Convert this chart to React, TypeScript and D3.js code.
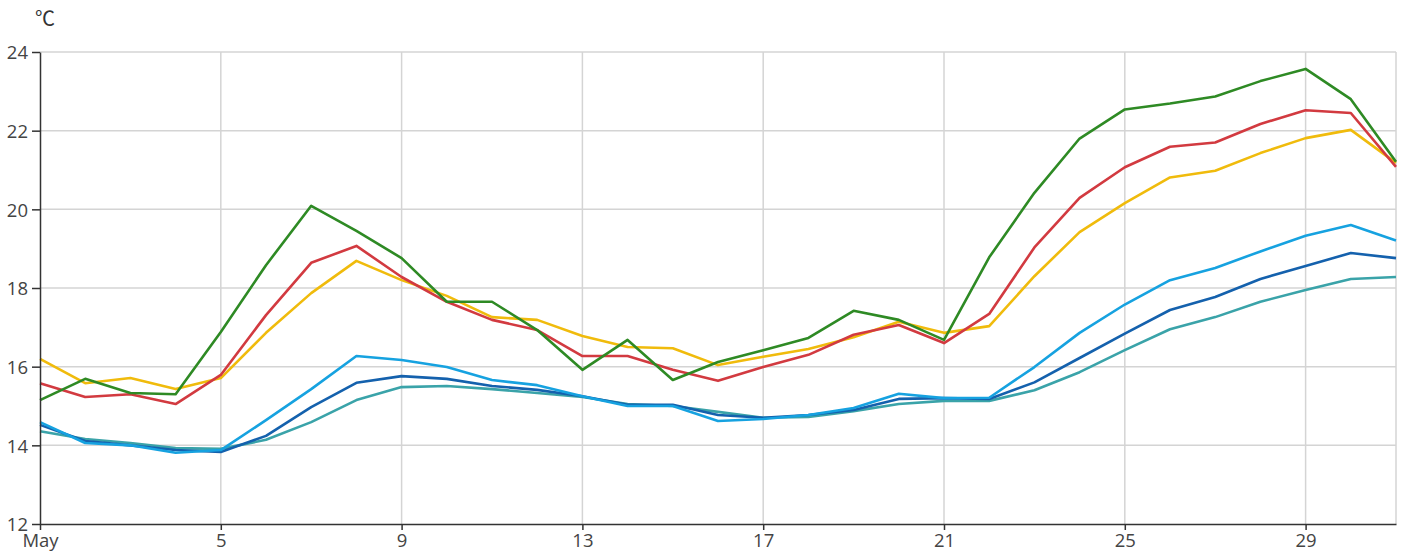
import React, { useEffect, useRef } from "react";
import * as d3 from "d3";

const days: number[] = d3.range(1, 32);
const tickDays: number[] = [1, 5, 9, 13, 17, 21, 25, 29];
const yTicks: number[] = [12, 14, 16, 18, 20, 22, 24];
const unitLabel = "℃";

const green: number[] = [15.15, 15.69, 15.33, 15.3, 16.88, 18.58, 20.09, 19.45, 18.76, 17.65, 17.65, 16.93, 15.92, 16.68, 15.66, 16.12, 16.42, 16.73, 17.42, 17.19, 16.68, 18.78, 20.42, 21.8, 22.54, 22.69, 22.87, 23.26, 23.57, 22.8, 21.21];
const red: number[] = [15.58, 15.23, 15.3, 15.05, 15.79, 17.31, 18.64, 19.07, 18.28, 17.65, 17.19, 16.93, 16.27, 16.27, 15.92, 15.64, 15.99, 16.3, 16.81, 17.06, 16.6, 17.34, 19.03, 20.29, 21.07, 21.59, 21.7, 22.17, 22.52, 22.45, 21.08];
const yellow: number[] = [16.2, 15.58, 15.71, 15.43, 15.71, 16.86, 17.87, 18.69, 18.2, 17.8, 17.26, 17.19, 16.78, 16.5, 16.47, 16.04, 16.25, 16.45, 16.75, 17.14, 16.86, 17.03, 18.3, 19.42, 20.16, 20.81, 20.98, 21.43, 21.81, 22.02, 21.18];
const lightBlue: number[] = [14.59, 14.06, 14.0, 13.81, 13.88, 14.64, 15.43, 16.27, 16.17, 15.99, 15.66, 15.53, 15.25, 15.0, 15.0, 14.62, 14.67, 14.77, 14.95, 15.31, 15.2, 15.21, 15.99, 16.86, 17.58, 18.2, 18.51, 18.93, 19.33, 19.6, 19.21];
const darkBlue: number[] = [14.52, 14.11, 14.0, 13.88, 13.83, 14.24, 14.97, 15.59, 15.76, 15.69, 15.51, 15.41, 15.25, 15.03, 15.03, 14.77, 14.7, 14.77, 14.9, 15.18, 15.2, 15.18, 15.6, 16.22, 16.84, 17.44, 17.77, 18.23, 18.56, 18.89, 18.76];
const teal: number[] = [14.36, 14.16, 14.06, 13.93, 13.91, 14.14, 14.59, 15.15, 15.48, 15.51, 15.43, 15.33, 15.23, 15.05, 15.0, 14.85, 14.7, 14.72, 14.87, 15.05, 15.13, 15.13, 15.4, 15.86, 16.42, 16.95, 17.26, 17.65, 17.95, 18.23, 18.28];

const seriesList: { values: number[]; color: string }[] = [
  { values: teal, color: "#3aa3a9" },
  { values: darkBlue, color: "#1461ad" },
  { values: lightBlue, color: "#16a2e0" },
  { values: yellow, color: "#f0bb0c" },
  { values: red, color: "#d23a40" },
  { values: green, color: "#2e8a24" },
];

const W = 1404;
const H = 555;
const M = { left: 40, right: 8, top: 52, bottom: 31 };

export default function App() {
  const ref = useRef<SVGSVGElement | null>(null);

  useEffect(() => {
    document.body.style.margin = "0";
    const svg = d3.select(ref.current);
    svg.selectAll("*").remove();

    const x = d3.scaleLinear().domain([1, 31]).range([M.left, W - M.right]);
    const y = d3.scaleLinear().domain([12, 24]).range([H - M.bottom, M.top]);
    const font = "'Open Sans', 'Noto Sans', sans-serif";

    // grid
    const g = svg.append("g");
    g.selectAll("line.h")
      .data(yTicks.filter((t) => t > 12))
      .enter()
      .append("line")
      .attr("x1", x(1))
      .attr("x2", x(31))
      .attr("y1", (d) => y(d))
      .attr("y2", (d) => y(d))
      .attr("stroke", "#d4d4d4")
      .attr("stroke-width", 1.5);
    g.selectAll("line.v")
      .data([...tickDays.filter((t) => t > 1), 31])
      .enter()
      .append("line")
      .attr("x1", (d) => x(d))
      .attr("x2", (d) => x(d))
      .attr("y1", y(24))
      .attr("y2", y(12))
      .attr("stroke", "#d4d4d4")
      .attr("stroke-width", 1.5);

    // lines
    const line = d3
      .line<number>()
      .x((_, i) => x(days[i]))
      .y((d) => y(d));
    seriesList.forEach((s) => {
      svg
        .append("path")
        .datum(s.values)
        .attr("d", line)
        .attr("fill", "none")
        .attr("stroke", s.color)
        .attr("stroke-width", 2.6)
        .attr("stroke-linejoin", "round");
    });

    // axes
    const yAxis = svg
      .append("g")
      .attr("transform", `translate(${M.left},0)`)
      .call(d3.axisLeft(y).tickValues(yTicks).tickSize(8).tickSizeOuter(0).tickPadding(4));
    const xAxis = svg
      .append("g")
      .attr("transform", `translate(0,${H - M.bottom})`)
      .call(
        d3
          .axisBottom(x)
          .tickValues(tickDays)
          .tickSize(6)
          .tickSizeOuter(0)
          .tickPadding(4)
          .tickFormat((d) => (d === 1 ? "May" : String(d)))
      );
    [yAxis, xAxis].forEach((a) => {
      a.select(".domain").attr("stroke", "#333").attr("stroke-width", 1.5);
      a.selectAll(".tick line").attr("stroke", "#333").attr("stroke-width", 1.5);
      a.selectAll("text").attr("fill", "#444").style("font-family", font).style("font-size", "18.5px");
    });
    yAxis.selectAll(".tick text").attr("dy", "0.36em");

    svg
      .append("text")
      .attr("x", 35)
      .attr("y", 26)
      .attr("fill", "#333")
      .style("font-family", "'Noto Sans CJK SC', sans-serif")
      .style("font-size", "20px")
      .text(unitLabel);
  }, []);

  return (
    <svg
      ref={ref}
      width={W}
      height={H}
      style={{ position: "absolute", left: 0, top: 0, background: "#fff" }}
    />
  );
}
